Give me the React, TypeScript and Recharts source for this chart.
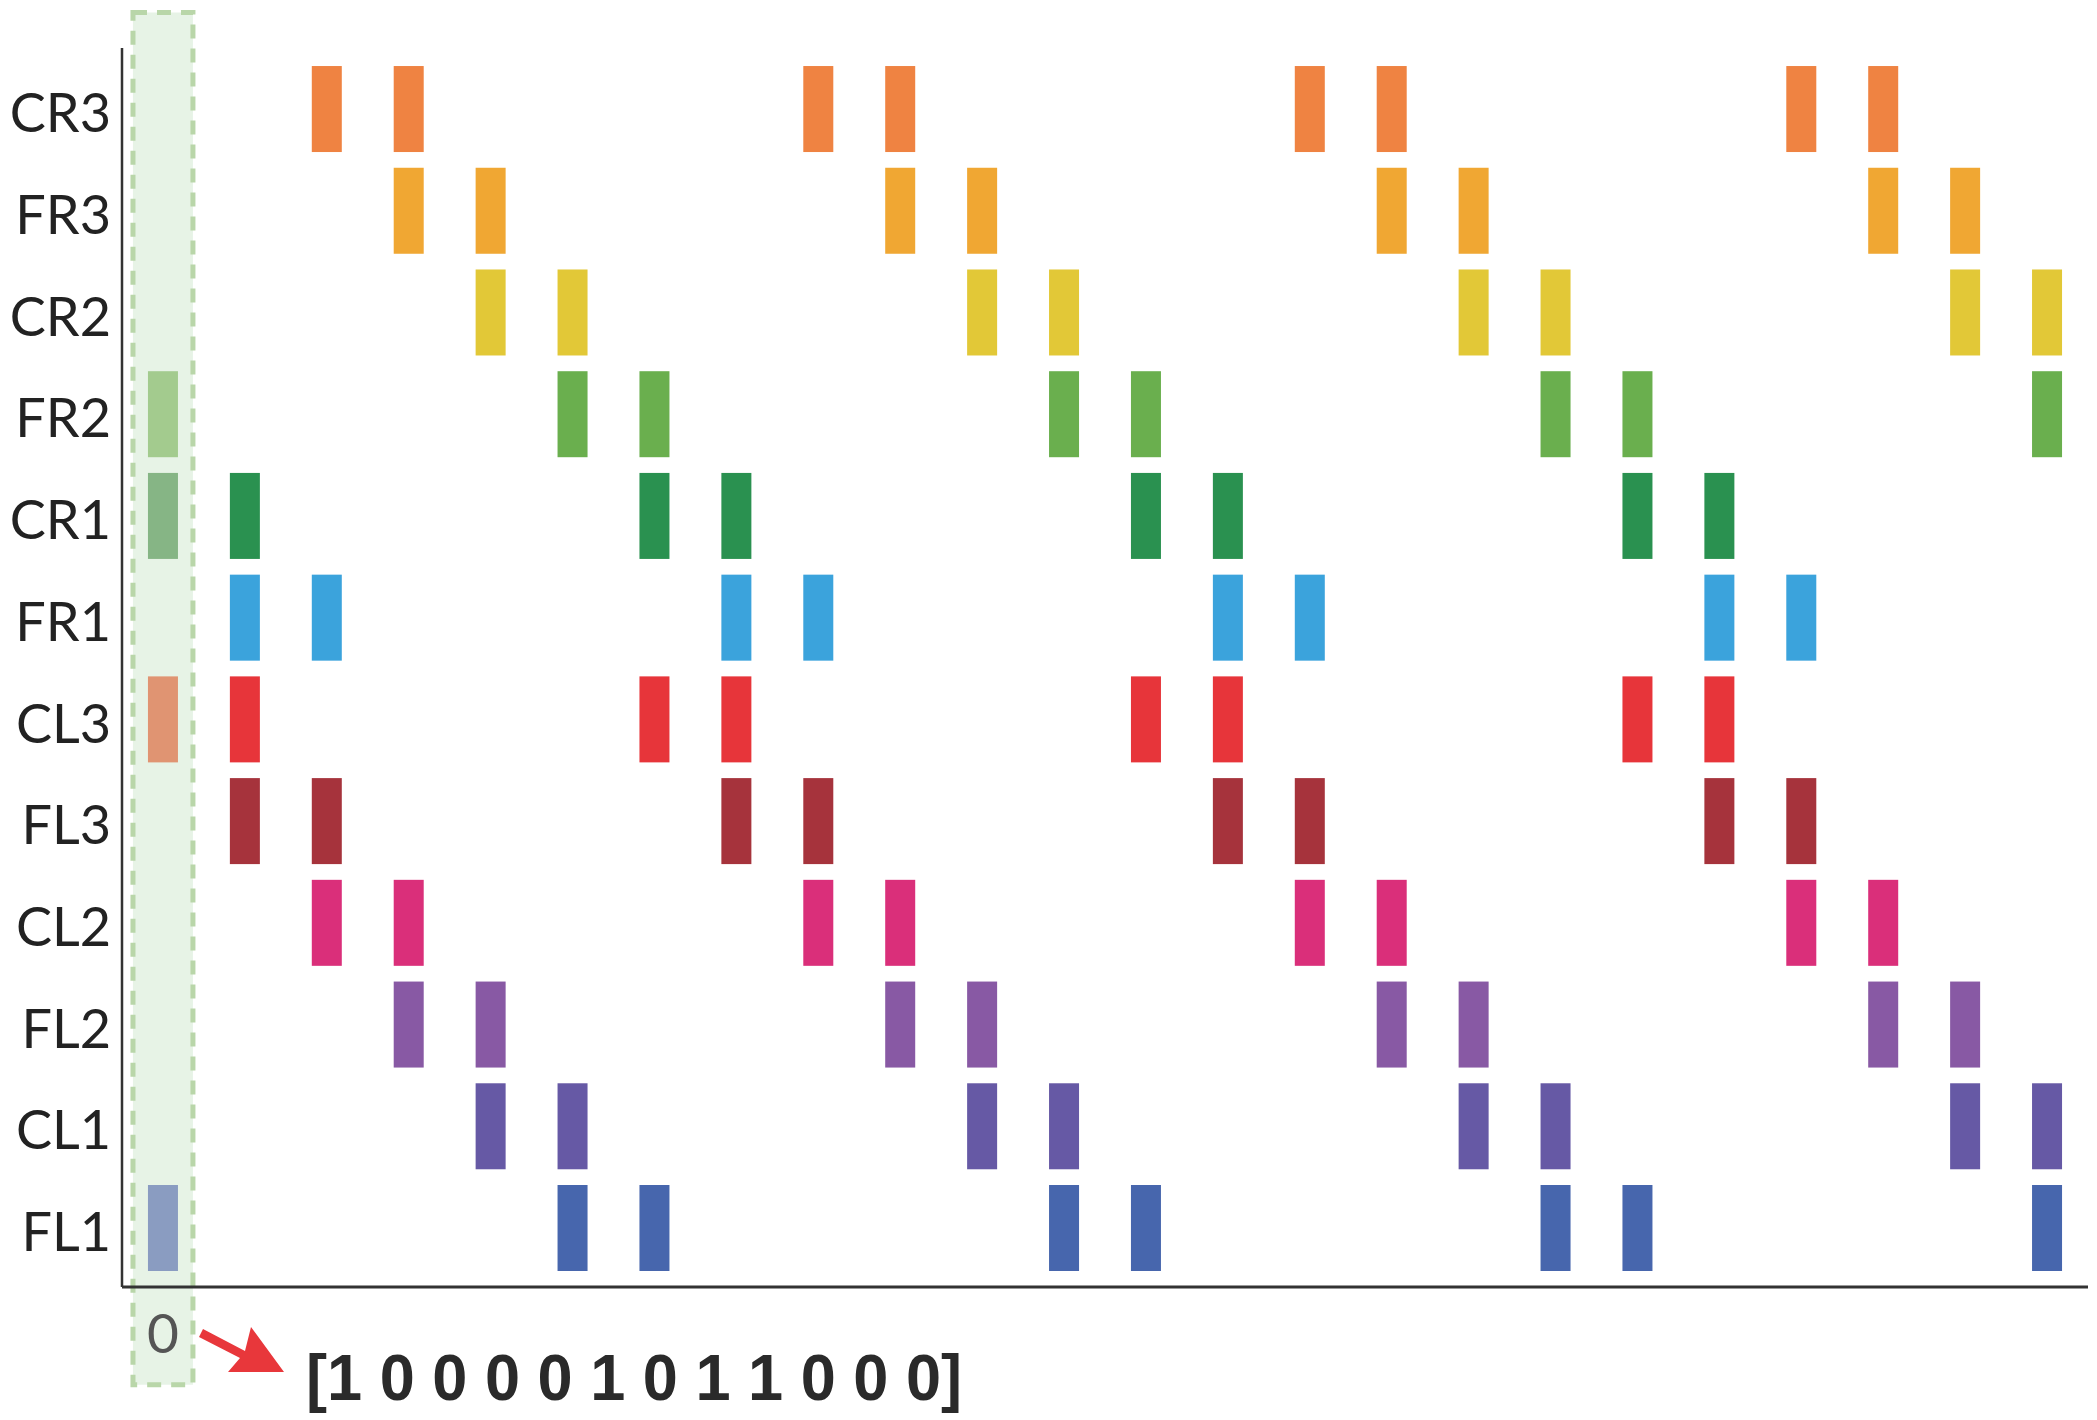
import { ScatterChart, Scatter, XAxis, YAxis, ReferenceArea, Cell } from 'recharts';

// rows bottom -> top
const rowLabels = ['FL1', 'CL1', 'FL2', 'CL2', 'FL3', 'CL3', 'FR1', 'CR1', 'FR2', 'CR2', 'FR3', 'CR3'];

// active time steps per row (step 0 comes from initialState)
const fl1Steps = [5, 6, 11, 12, 17, 18, 23];
const cl1Steps = [4, 5, 10, 11, 16, 17, 22, 23];
const fl2Steps = [3, 4, 9, 10, 15, 16, 21, 22];
const cl2Steps = [2, 3, 8, 9, 14, 15, 20, 21];
const fl3Steps = [1, 2, 7, 8, 13, 14, 19, 20];
const cl3Steps = [1, 6, 7, 12, 13, 18, 19];
const fr1Steps = [1, 2, 7, 8, 13, 14, 19, 20];
const cr1Steps = [1, 6, 7, 12, 13, 18, 19];
const fr2Steps = [5, 6, 11, 12, 17, 18, 23];
const cr2Steps = [4, 5, 10, 11, 16, 17, 22, 23];
const fr3Steps = [3, 4, 9, 10, 15, 16, 21, 22];
const cr3Steps = [2, 3, 8, 9, 14, 15, 20, 21];

// state at step 0, same order as rowLabels
const initialState = [1, 0, 0, 0, 0, 1, 0, 1, 1, 0, 0, 0];

const rowSteps = [fl1Steps, cl1Steps, fl2Steps, cl2Steps, fl3Steps, cl3Steps, fr1Steps, cr1Steps, fr2Steps, cr2Steps, fr3Steps, cr3Steps];

const rowColors = ['#4766ad', '#6659a5', '#8859a4', '#da2f7a', '#a6333c', '#e7353a', '#3ba3dc', '#2a9150', '#6aaf4e', '#e2c837', '#f0a733', '#ef8342'];
const fadedColors = ['#8a9cc1', '#a29cc8', '#b49cc8', '#e894b4', '#c88c90', '#e09472', '#96c8e8', '#86b585', '#a3cb8e', '#ece0a0', '#f4cf94', '#f4b994'];

const BAR_W = 30;
const BAR_H = 86;

const Block = (props: any) => {
  const { cx, cy, fill } = props;
  if (cx == null || cy == null) return null;
  return <rect x={cx - BAR_W / 2} y={cy - BAR_H / 2} width={BAR_W} height={BAR_H} fill={fill} />;
};

const firstStep = initialState
  .map((v, i) => ({ step: 0, row: i, on: v }))
  .filter(d => d.on === 1);

export default function App() {
  return (
    <div style={{ position: 'absolute', left: 0, top: 0, width: 2097, height: 1420, background: '#fff' }}>
      <ScatterChart width={2097} height={1420} margin={{ top: 48, right: 9, bottom: 103, left: 0 }}>
        <ReferenceArea
          x1={-0.366}
          x2={0.366}
          y1={-1.54}
          y2={11.95}
          ifOverflow="visible"
          fill="#d7ebd6"
          fillOpacity={0.6}
          stroke="#b9d6a9"
          strokeWidth={5}
          strokeDasharray="14 10"
        />
        <XAxis
          type="number"
          dataKey="step"
          domain={[-0.5, 23.5]}
          ticks={[0]}
          tickLine={false}
          tickSize={0}
          tickMargin={27}
          height={30}
          axisLine={{ stroke: '#333', strokeWidth: 3 }}
          tick={{ fontSize: 55, fill: '#555', fontFamily: 'Lato' }}
          allowDataOverflow
        />
        <YAxis
          type="number"
          dataKey="row"
          domain={[-0.58, 11.6]}
          ticks={rowLabels.map((_, i) => i)}
          tickFormatter={(i: number) => rowLabels[i]}
          tickLine={false}
          tickSize={0}
          tickMargin={11}
          width={122}
          axisLine={{ stroke: '#333', strokeWidth: 2.5 }}
          tick={{ fontSize: 54, fill: '#222', fontFamily: 'Lato', dy: 4 }}
          allowDataOverflow
        />
        {rowSteps.map((steps, i) => (
          <Scatter
            key={rowLabels[i]}
            name={rowLabels[i]}
            data={steps.map(s => ({ step: s, row: i }))}
            fill={rowColors[i]}
            shape={<Block />}
            isAnimationActive={false}
          />
        ))}
        <Scatter name="step0" data={firstStep} shape={<Block />} isAnimationActive={false}>
          {firstStep.map(d => (
            <Cell key={d.row} fill={fadedColors[d.row]} />
          ))}
        </Scatter>
      </ScatterChart>
      <svg width={2097} height={1420} style={{ position: 'absolute', left: 0, top: 0, pointerEvents: 'none' }}>
        <polygon points="203,1329 245,1351 251,1327 284,1372 228,1372 240,1358 199,1337" fill="#e8373b" />
        <text
          x={306}
          y={1400}
          textLength={656}
          lengthAdjust="spacingAndGlyphs"
          fontFamily="Liberation Sans, Arial"
          fontWeight="bold"
          fontSize={65}
          fill="#2a2a2a"
        >
          {`[${initialState.join(' ')}]`}
        </text>
      </svg>
    </div>
  );
}
